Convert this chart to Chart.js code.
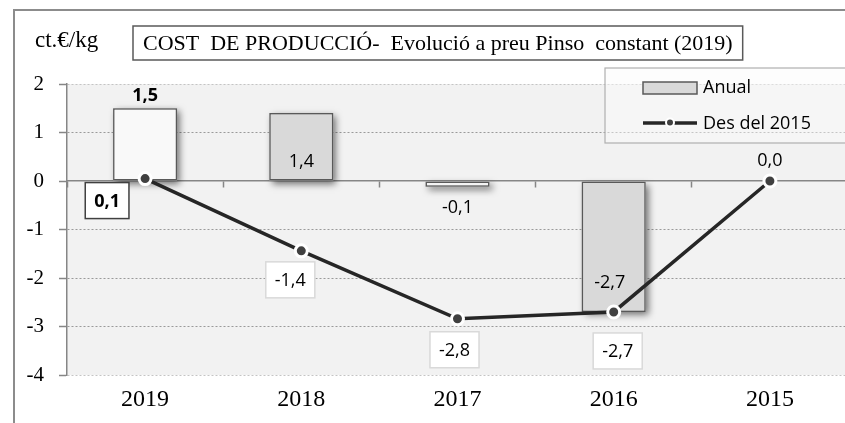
<!DOCTYPE html>
<html>
<head>
<meta charset="utf-8">
<script src="https://cdn.jsdelivr.net/npm/chart.js@4"></script>
<style>
  html, body { margin: 0; padding: 0; background: #fff; overflow: hidden; }
  #costChart { display: block; }
</style>
</head>
<body>
<canvas id="costChart" width="857" height="423"></canvas>
<script>
// data
const years = ['2019', '2018', '2017', '2016', '2015'];
const anualVals = [1.5, 1.4, -0.12, -2.7, null];
const desDelVals = [0.05, -1.44, -2.84, -2.7, 0.0];
const yTicks = [2, 1, 0, -1, -2, -3, -4];
const anualLabel = 'Anual';
const desDelLabel = 'Des del 2015';
const titleText = 'COST  DE PRODUCCIÓ-  Evolució a preu Pinso  constant (2019)';
const unitText = 'ct.€/kg';

const serif = '"Liberation Serif", "Times New Roman", serif';
const sans = '"Open Sans", sans-serif';
const barColors = ['#f9f9f9', '#d9d9d9', '#f4f4f4', '#d9d9d9', '#d9d9d9'];

// where each value label sits relative to its mark (dx, dy)
const barLabelShift = [[0, -13], [0, 48], [0, 20], [-4, -30], null];
const lineLabelShift = [[-38, 22], [-11, 29], [-3, 31], [4, 39], [0, -21]];
const lineLabelBox = ['#404040', '#d9d9d9', '#d9d9d9', '#d9d9d9', null];

function fmt(v) {
  return (Math.round(v * 10) / 10).toFixed(1).replace('.', ',');
}

function drawLabel(ctx, text, cx, cy, bold, boxColor) {
  ctx.font = (bold ? 'bold ' : '') + '18px ' + sans;
  const w = ctx.measureText(text).width;
  if (boxColor) {
    const bw = w + 18, bh = 36;
    ctx.fillStyle = '#fff';
    ctx.fillRect(cx - bw / 2, cy - bh / 2, bw, bh);
    ctx.strokeStyle = boxColor;
    ctx.lineWidth = 1.5;
    ctx.strokeRect(cx - bw / 2, cy - bh / 2, bw, bh);
  }
  ctx.fillStyle = '#000';
  ctx.textAlign = 'center';
  ctx.textBaseline = 'middle';
  ctx.fillText(text, cx, cy + 1);
}

const decor = {
  id: 'decor',
  beforeDraw(chart) {
    const { ctx, chartArea: a } = chart;
    ctx.save();
    ctx.fillStyle = '#fff';
    ctx.fillRect(0, 0, chart.width, chart.height);
    ctx.fillStyle = '#f2f2f2';
    ctx.fillRect(a.left, a.top, chart.width - a.left, a.bottom - a.top);
    ctx.strokeStyle = '#8c8c8c';
    ctx.lineWidth = 2;
    ctx.strokeRect(14, 10, chart.width + 40, chart.height + 40);
    ctx.restore();
  },
  beforeDatasetDraw(chart, args) {
    if (chart.data.datasets[args.index].type !== 'bar') return;
    const ctx = chart.ctx;
    ctx.save();
    ctx.shadowColor = 'rgba(0,0,0,0.55)';
    ctx.shadowBlur = 7;
    ctx.shadowOffsetX = 3;
    ctx.shadowOffsetY = 3;
    ctx.fillStyle = '#bdbdbd';
    args.meta.data.forEach((el, i) => {
      if (anualVals[i] === null) return;
      const p = el.getProps(['x', 'y', 'base', 'width'], true);
      ctx.fillRect(p.x - p.width / 2, Math.min(p.y, p.base), p.width, Math.abs(p.y - p.base));
    });
    ctx.restore();
  },
  afterDatasetsDraw(chart) {
    const ctx = chart.ctx;
    ctx.save();
    const barMeta = chart.getDatasetMeta(1);
    barMeta.data.forEach((el, i) => {
      if (anualVals[i] === null || !barLabelShift[i]) return;
      const [dx, dy] = barLabelShift[i];
      drawLabel(ctx, fmt(anualVals[i]), el.x + dx, el.y + dy, i === 0, null);
    });
    const lineMeta = chart.getDatasetMeta(0);
    lineMeta.data.forEach((el, i) => {
      const [dx, dy] = lineLabelShift[i];
      drawLabel(ctx, fmt(desDelVals[i]), el.x + dx, el.y + dy, i === 0, lineLabelBox[i]);
    });
    ctx.restore();
  },
  afterDraw(chart) {
    const ctx = chart.ctx;
    ctx.save();
    // unit
    ctx.fillStyle = '#000';
    ctx.textAlign = 'left';
    ctx.textBaseline = 'middle';
    ctx.font = '23px ' + serif;
    ctx.fillText(unitText, 35, 41);
    // title box
    ctx.font = '22px ' + serif;
    const tw = ctx.measureText(titleText).width;
    ctx.fillStyle = '#fff';
    ctx.fillRect(133, 26, tw + 20, 34);
    ctx.strokeStyle = '#595959';
    ctx.lineWidth = 1.5;
    ctx.strokeRect(133, 26, tw + 20, 34);
    ctx.fillStyle = '#000';
    ctx.fillText(titleText, 143, 44);
    // legend
    ctx.fillStyle = 'rgba(250,250,250,0.45)';
    ctx.fillRect(605, 68, 320, 75);
    ctx.strokeStyle = '#b0b0b0';
    ctx.lineWidth = 1.2;
    ctx.strokeRect(605, 68, 320, 75);
    const bar = chart.data.datasets[1], line = chart.data.datasets[0];
    ctx.fillStyle = '#d9d9d9';
    ctx.fillRect(643, 82, 54, 12);
    ctx.strokeStyle = bar.borderColor;
    ctx.lineWidth = 1.5;
    ctx.strokeRect(643, 82, 54, 12);
    ctx.strokeStyle = line.borderColor;
    ctx.lineWidth = 3.5;
    ctx.beginPath();
    ctx.moveTo(643, 123);
    ctx.lineTo(697, 123);
    ctx.stroke();
    ctx.beginPath();
    ctx.arc(670, 122.5, 4, 0, Math.PI * 2);
    ctx.fillStyle = '#404040';
    ctx.fill();
    ctx.strokeStyle = '#fff';
    ctx.lineWidth = 2;
    ctx.stroke();
    ctx.fillStyle = '#000';
    ctx.font = '18px ' + sans;
    ctx.fillText(bar.label, 703, 88);
    ctx.fillText(line.label, 703, 124);
    ctx.restore();
  }
};

new Chart(document.getElementById('costChart'), {
  type: 'bar',
  data: {
    labels: years,
    datasets: [
      {
        type: 'line', label: desDelLabel, data: desDelVals, order: 0,
        borderColor: '#262626', borderWidth: 3.5, tension: 0,
        pointRadius: 6, pointBackgroundColor: '#404040', pointBorderColor: '#fff', pointBorderWidth: 3
      },
      {
        type: 'bar', label: anualLabel, data: anualVals, order: 1,
        backgroundColor: barColors, borderColor: '#595959', borderWidth: 1.5, borderSkipped: false,
        barPercentage: 0.41, categoryPercentage: 1
      }
    ]
  },
  options: {
    responsive: false,
    animation: false,
    devicePixelRatio: 1,
    layout: { padding: { top: 84, left: 0, right: 8, bottom: 0 } },
    plugins: { legend: { display: false }, title: { display: false }, tooltip: { enabled: false } },
    scales: {
      x: {
        offset: true,
        grid: { display: false, drawTicks: false },
        border: { display: false },
        ticks: { color: '#000', font: { family: serif, size: 24 }, padding: 10 },
        afterFit: s => { s.height = 48; }
      },
      x2: {
        type: 'category', axis: 'x', labels: years, position: { y: 0 }, offset: true,
        ticks: { display: false },
        grid: { display: true, drawOnChartArea: false, drawTicks: true, tickLength: 6, tickColor: '#868686', tickWidth: 1.5, offset: true },
        border: { display: true, color: '#868686', width: 1.5 }
      },
      y: {
        min: -4, max: 2,
        afterBuildTicks: s => { s.ticks = yTicks.map(v => ({ value: v })); },
        ticks: { color: '#000', font: { family: serif, size: 21 }, padding: 15 },
        grid: {
          color: c => (c.tick && c.tick.value === 0) ? 'rgba(0,0,0,0)' :
            (c.tick && (c.tick.value === 2 || c.tick.value === -4)) ? '#c4c4c4' : '#9a9a9a',
          lineWidth: 1, drawTicks: true, tickLength: 8, tickColor: '#868686', tickWidth: 1.5, tickBorderDash: []
        },
        border: { display: true, color: '#868686', width: 1.5, dash: [2, 2] },
        afterFit: s => { s.width = 67; }
      }
    }
  },
  plugins: [decor]
});
</script>
</body>
</html>
